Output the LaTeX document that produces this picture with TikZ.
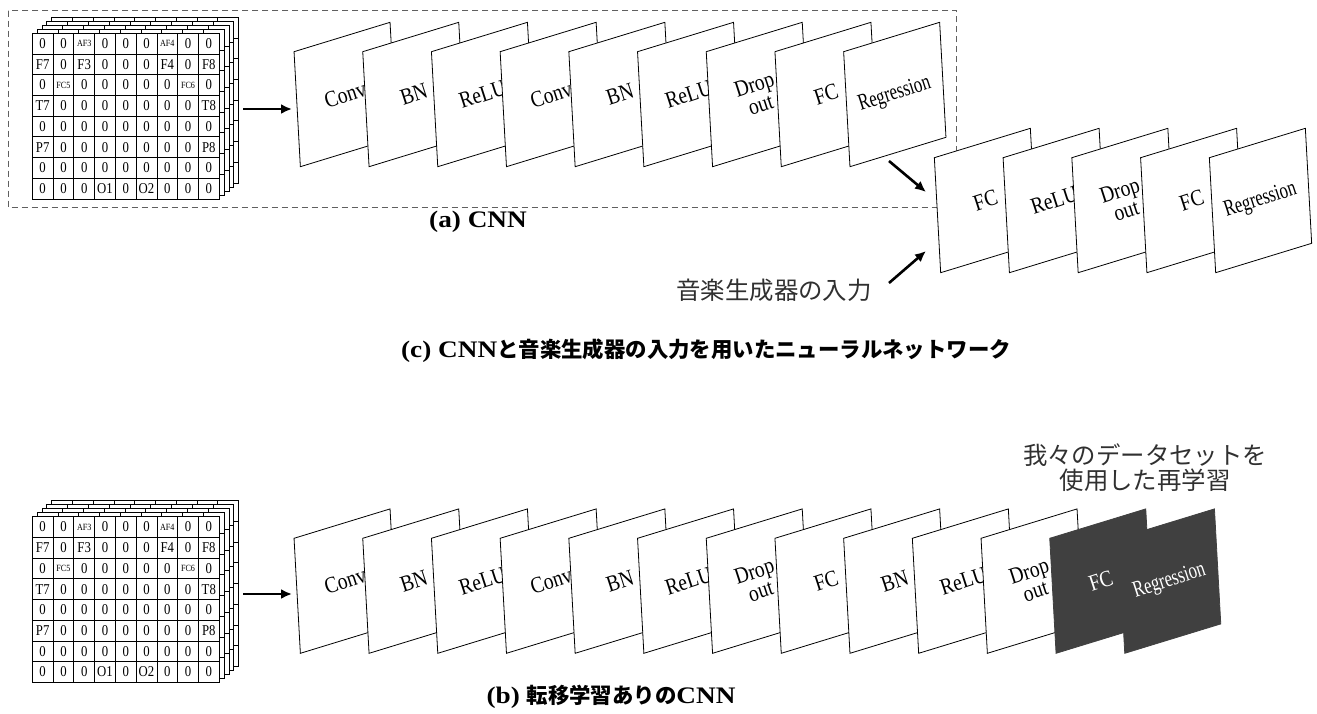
\documentclass[tikz,border=0pt]{standalone}
\usepackage{fontspec}
\usepackage{graphicx}
\setmainfont[FakeStretch=1.15]{Liberation Serif}
\newfontfamily\labfont[FakeStretch=0.85]{Liberation Serif}
\newfontfamily\cjk{Noto Sans CJK JP}
\usetikzlibrary{arrows.meta}
\definecolor{panelgray}{HTML}{404040}
\definecolor{dashgray}{HTML}{606060}
\definecolor{labgray}{HTML}{303030}
\newcommand\smtext{\fontsize{9.5}{10}\selectfont}
\newcommand\regr{\scalebox{0.86}[1]{Regression}}
\tikzset{
  gridline/.style={draw=black, line width=0.8pt},
  cell/.style={font=\labfont\fontsize{15}{16}\selectfont, inner sep=0pt},
  panel/.style={draw=black, fill=white, line width=0.8pt, minimum width=96pt,
    minimum height=115pt, inner sep=0pt, cm={1,0.306,-0.055,1,(0,0)}},
  darkpanel/.style={panel, fill=panelgray, draw=panelgray},
  lab/.style={rotate=18, font=\labfont\fontsize{23}{21}\selectfont, align=center, inner sep=0pt},
  darklab/.style={lab, text=white},
  arr/.style={line width=2.6pt, -{Latex[length=11pt,width=10pt]}},
  capt/.style={font=\bfseries\fontsize{23.7}{26}\selectfont, inner sep=0pt},
  jlab/.style={font=\cjk\fontsize{24.4}{25}\selectfont, text=labgray, align=center, inner sep=0pt},
}
\newcommand\eeggrid[2]{%
\begin{scope}[shift={(0,#2)}]
 \foreach \k in {4,3,2,1,0}{
  \begin{scope}[shift={(4.85*\k,-4*\k)}]
   \filldraw[gridline, fill=white] (32.3,33.3) rectangle ++(186.9,165.7);
   \foreach \i in {1,...,8} \draw[gridline] (32.3+20.767*\i,33.3) -- ++(0,165.7);
   \foreach \j in {1,...,7} \draw[gridline] (32.3,33.3+20.71*\j) -- ++(186.9,0);
  \end{scope}}
 \foreach \row [count=\r] in {
   {0,0,\smtext AF3,0,0,0,\smtext AF4,0,0},
   {F7,0,F3,0,0,0,F4,0,F8},
   {0,\smtext FC5,0,0,0,0,0,\smtext FC6,0},
   {T7,0,0,0,0,0,0,0,T8},
   {0,0,0,0,0,0,0,0,0},
   {P7,0,0,0,0,0,0,0,P8},
   {0,0,0,0,0,0,0,0,0},
   {0,0,0,O1,0,O2,0,0,0}}{
   \foreach \v [count=\c] in \row {
     \node[cell] (#1-\r-\c) at (32.3+20.767*\c-10.38, 33.3+20.71*\r-10.36) {\v};
   }}
\end{scope}}

\begin{document}
\begin{tikzpicture}[x=1pt,y=-1pt]
\useasboundingbox (0,0) rectangle (1317,713);

% ---- (a) CNN ----
\draw[dashgray, dash pattern=on 6pt off 4pt, line width=1.1pt] (8.3,10.7) rectangle (956.7,207.3);
\eeggrid{ga}{0}
\coordinate (gaout) at (243,109);
\foreach \t [count=\i from 0] in {Conv,BN,ReLU,Conv,BN,ReLU,{Drop\\out},FC,\regr}{
  \node[panel] (a\i) at (345.2+68.7*\i, 94.5) {};
  \node[lab] (al\i) at (a\i.center) {\t};
}
\coordinate (ain) at (292,109);
\draw[arr] (gaout) -- (ain);
\node[capt] (capa) at (478,222) {(a) CNN};

% ---- (c) second stage ----
\foreach \t [count=\i from 0] in {FC,ReLU,{Drop\\out},FC,\regr}{
  \node[panel] (c\i) at (985.5+68.75*\i, 200.5) {};
  \node[lab] (cl\i) at (c\i.center) {\t};
}
\coordinate (cu0) at (889,161);
\coordinate (cu1) at (926,192);
\coordinate (cd0) at (889,283);
\coordinate (cd1) at (926,251);
\draw[arr] (cu0) -- (cu1);
\draw[arr] (cd0) -- (cd1);
\node[jlab] (music) at (774,290) {音楽生成器の入力};
\node[capt] (capc) at (706,351) {(c) CNN{\cjk\fontsize{21.4}{24}\selectfont と音楽生成器の入力を用いたニューラルネットワーク}};

% ---- (b) transfer learning ----
\eeggrid{gb}{483.4}
\coordinate (gbout) at (243,594);
\foreach \t [count=\i from 0] in {Conv,BN,ReLU,Conv,BN,ReLU,{Drop\\out},FC,BN,ReLU,{Drop\\out}}{
  \node[panel] (b\i) at (345.2+68.7*\i, 581.1) {};
  \node[lab] (bl\i) at (b\i.center) {\t};
}
\node[darkpanel] (b11) at (345.2+68.7*11, 581.1) {};
\node[darklab] (bl11) at (b11.center) {FC};
\node[darkpanel] (b12) at (345.2+68.7*12, 581.1) {};
\node[darklab] (bl12) at (b12.center) {\regr};
\coordinate (bin) at (292,594);
\draw[arr] (gbout) -- (bin);
\node[jlab] (retrain) at (1145,467.5) {我々のデータセットを\\使用した再学習};
\node[capt] (capb) at (611,697) {(b) {\cjk\fontsize{21.4}{24}\selectfont 転移学習ありの}CNN};
\end{tikzpicture}
\end{document}
